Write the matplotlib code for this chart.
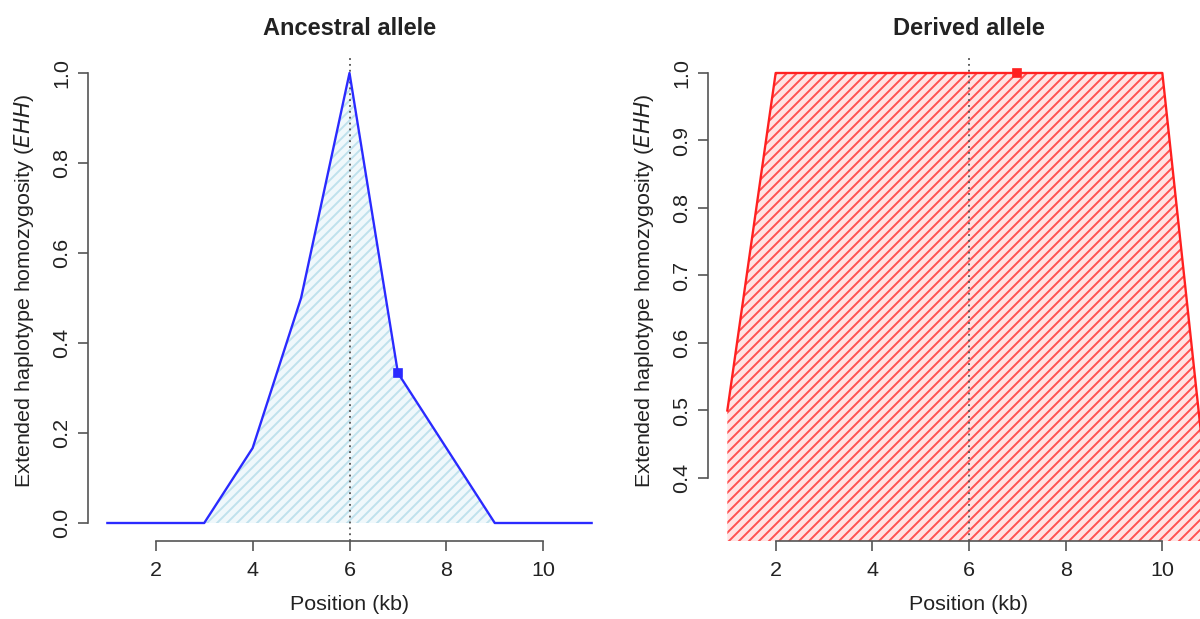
import numpy as np
import matplotlib
matplotlib.use("Agg")
import matplotlib.pyplot as plt

# EHH decay around the focal marker (position 6 kb)
positions = [1, 2, 3, 4, 5, 6, 7, 8, 9, 10, 11]
ehh_ancestral = [0, 0, 0, 1/6, 0.5, 1.0, 1/3, 1/6, 0, 0, 0]
ehh_derived = [0.5, 1, 1, 1, 1, 1, 1, 1, 1, 1, 1/3]
focal_pos = 6
marker_pos = 7
titles = ["Ancestral allele", "Derived allele"]
xticks = [2, 4, 6, 8, 10]
yticks_anc = [0.0, 0.2, 0.4, 0.6, 0.8, 1.0]
yticks_der = [0.4, 0.5, 0.6, 0.7, 0.8, 0.9, 1.0]

plt.rcParams['font.family'] = ['Liberation Sans', 'DejaVu Sans']
plt.rcParams['hatch.linewidth'] = 1.15

DPI = 120
fig = plt.figure(figsize=(10, 5.1584), dpi=DPI)

axcol = '#555555'
txtcol = '#222222'
base = 12.9


def r_range(vals):
    lo, hi = min(vals), max(vals)
    pad = 0.04 * (hi - lo)
    return lo - pad, hi + pad


def panel(rect, y, title, yticks, line_col, fill_col, hatch_col, ylab_x):
    ax = fig.add_axes(rect)
    ax.set_xlim(*r_range(positions))
    ax.set_ylim(*r_range(y))
    # shaded area under the curve
    ax.fill_between(positions, y, 0, facecolor=fill_col, edgecolor='none', lw=0)
    ax.fill_between(positions, y, 0, facecolor='none', edgecolor=hatch_col,
                    hatch='////', lw=0)
    ax.plot(positions, y, color=line_col, lw=1.4, zorder=3)
    i = positions.index(marker_pos)
    ax.plot([marker_pos], [y[i]], 's', color=line_col, ms=4.5, zorder=4)
    ax.axvline(focal_pos, color='#555555', lw=1.1, ls=(0, (1, 2.2)), zorder=2)

    for s in ['top', 'right']:
        ax.spines[s].set_visible(False)
    ax.spines['left'].set_bounds(yticks[0], yticks[-1])
    ax.spines['bottom'].set_bounds(xticks[0], xticks[-1])
    for s in ['left', 'bottom']:
        ax.spines[s].set_color(axcol)
        ax.spines[s].set_linewidth(1.0)
    ax.set_xticks(xticks)
    ax.set_yticks(yticks)
    ax.set_xticklabels([str(t) for t in xticks])
    ax.set_yticklabels(['%.1f' % t for t in yticks], rotation=90, va='center')
    ax.tick_params(axis='both', length=6, width=1.0, color=axcol,
                   labelsize=base, labelcolor=txtcol)
    ax.tick_params(axis='x', pad=6)
    ax.tick_params(axis='y', pad=4)

    ax.set_title(title, fontsize=14.2, fontweight='bold', color=txtcol, pad=12.2)
    ax.set_xlabel('Position (kb)', fontsize=base, color=txtcol)
    ax.xaxis.set_label_coords(0.5, -0.112)
    ax.set_ylabel('Extended haplotype homozygosity ($\\it{EHH}$)',
                  fontsize=base, color=txtcol)
    ax.yaxis.set_label_coords(ylab_x, 0.515)
    return ax


fig_w, fig_h = 1200, 619
bottom = 1 - 541 / fig_h
height = 486 / fig_h

panel([88 / fig_w, bottom, 523 / fig_w, height], ehh_ancestral, titles[0],
      yticks_anc, '#2a2aff', '#f0f8fb', '#bfe1ec', -0.1)
panel([708 / fig_w, bottom, 522 / fig_w, height], ehh_derived, titles[1],
      yticks_der, '#ff2020', '#ffe4e4', '#ff5050', -0.099)

fig.savefig('out.png', dpi=DPI)
